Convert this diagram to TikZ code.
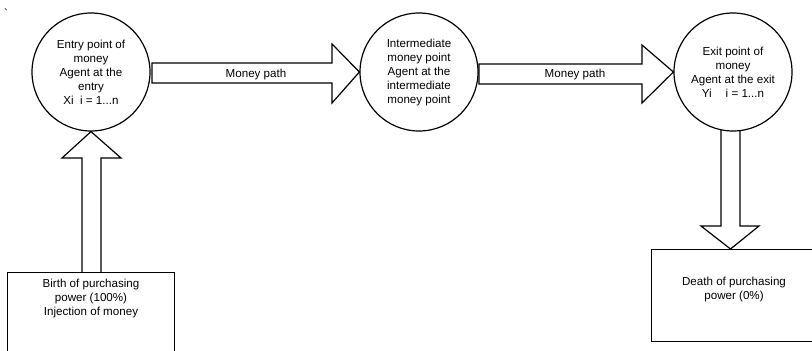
\documentclass[tikz,border=0pt]{standalone}
\usepackage{fontspec}
\setmainfont{Liberation Sans}

\begin{document}
\begin{tikzpicture}[x=0.75pt, y=-0.75pt, line width=0.9pt,
    every node/.style={font=\fontsize{8.7}{10.5}\selectfont},
    agent/.style={draw, circle, fill=white, minimum size=88.5pt, inner sep=0pt, align=center},
    powerbox/.style={draw, rectangle, anchor=north west, inner sep=0pt},
    blockarrow/.style={draw, line join=miter}]

    \useasboundingbox (0,0) rectangle (812,350);
    \clip (0,0) rectangle (812,350);

    \node (tick) at (6,13) {\textasciigrave};

    \node[agent] (entry) at (91,72) {Entry point of\\money\\Agent at the\\entry\\Xi\ \ i = 1...n};
    \node[agent] (middle) at (419,72) {Intermediate\\money point\\Agent at the\\intermediate\\money point};
    \node[agent] (exit) at (733,72) {Exit point of\\money\\Agent at the exit\\Yi\hspace{1.2em}i = 1...n};

    \node[powerbox, minimum width=125.25pt, minimum height=67.5pt] (birth) at (7,272) {};
    \node[align=center] (birthtext) at (91,298) {Birth of purchasing\\power (100\%)\\Injection of money};
    \node[powerbox, minimum width=130pt, minimum height=69pt] (death) at (651,249) {};
    \node[align=center] (deathtext) at (734,289.5) {Death of purchasing\\power (0\%)};

    \draw[blockarrow] (152,63) -- (332,63) -- (332,44) -- (middle.west) -- (332,103) -- (332,83) -- (152,83) -- cycle;
    \draw[blockarrow] (479,64) -- (642,64) -- (642,45) -- (exit.west) -- (642,103) -- (642,84) -- (479,84) -- cycle;
    \draw[blockarrow] (82,0 |- birth.north) -- (82,158) -- (62,158) -- (entry.south) -- (121,158) -- (101,158) -- (101,0 |- birth.north);
    \draw[blockarrow] (721,129.5) -- (721,226) -- (701,226) -- (730.5,0 |- death.north) -- (759,226) -- (740,226) -- (740,130.5);

    \node (path1) at (256,74) {Money path};
    \node (path2) at (575,74) {Money path};
  \end{tikzpicture}
\end{document}
